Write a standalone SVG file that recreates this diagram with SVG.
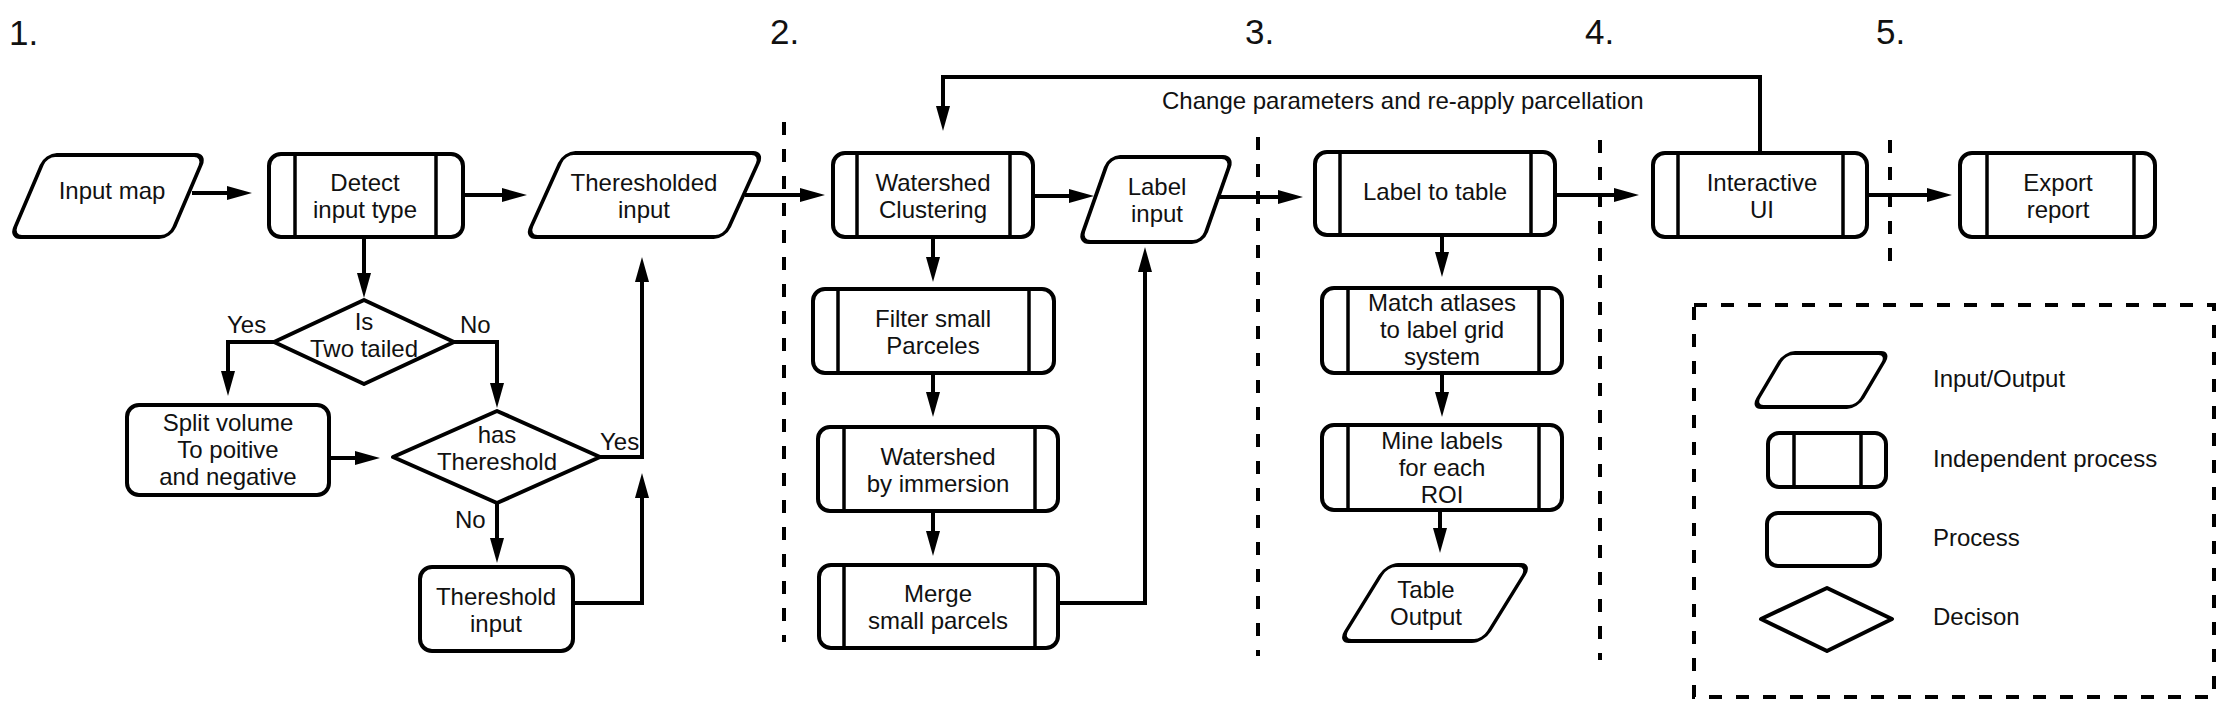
<svg xmlns="http://www.w3.org/2000/svg" width="2232" height="714" viewBox="0 0 2232 714">
<defs>
<style>
.shape{fill:#fff;stroke:#000;stroke-width:4;stroke-linejoin:round}
.inner{stroke:#000;stroke-width:3.5;fill:none}
.conn{fill:none;stroke:#000;stroke-width:4}
.sep{fill:none;stroke:#000;stroke-width:4;stroke-dasharray:13 14}
text{font-family:"Liberation Sans",Arial,sans-serif;font-size:24px;fill:#111}
.c{text-anchor:middle}
.num{font-size:35px}
</style>
<marker id="arr" markerUnits="userSpaceOnUse" markerWidth="26" markerHeight="16" refX="13" refY="7" orient="auto">
<path d="M0,0 L25,7 L0,14 z" fill="#000"/>
</marker>
</defs>
<rect width="2232" height="714" fill="#fff"/>

<g id="stage-numbers">
<text class="num" x="9" y="45">1.</text>
<text class="num" x="770" y="44">2.</text>
<text class="num" x="1245" y="44">3.</text>
<text class="num" x="1585" y="44">4.</text>
<text class="num" x="1876" y="44">5.</text>
</g>

<g id="separators">
<line class="sep" x1="784" y1="122" x2="784" y2="642"/>
<line class="sep" x1="1258" y1="137" x2="1258" y2="656"/>
<line class="sep" x1="1600" y1="140" x2="1600" y2="660"/>
<line class="sep" x1="1890" y1="140" x2="1890" y2="275"/>
</g>

<g id="connectors">
<path class="conn" d="M192,193 L240,193" marker-end="url(#arr)"/>
<path class="conn" d="M463,195 L515,195" marker-end="url(#arr)"/>
<path class="conn" d="M364,237 L364,286" marker-end="url(#arr)"/>
<path class="conn" d="M274,342 L228,342 L228,384" marker-end="url(#arr)"/>
<path class="conn" d="M454,342 L497,342 L497,396" marker-end="url(#arr)"/>
<path class="conn" d="M329,458 L368,458" marker-end="url(#arr)"/>
<path class="conn" d="M600,457 L642,457 L642,269" marker-end="url(#arr)"/>
<path class="conn" d="M497,503 L497,551" marker-end="url(#arr)"/>
<path class="conn" d="M573,603 L642,603 L642,485" marker-end="url(#arr)"/>
<path class="conn" d="M745,195 L813,195" marker-end="url(#arr)"/>
<path class="conn" d="M933,237 L933,270" marker-end="url(#arr)"/>
<path class="conn" d="M933,373 L933,405" marker-end="url(#arr)"/>
<path class="conn" d="M933,511 L933,544" marker-end="url(#arr)"/>
<path class="conn" d="M1058,603 L1145,603 L1145,259" marker-end="url(#arr)"/>
<path class="conn" d="M1033,196 L1082,196" marker-end="url(#arr)"/>
<path class="conn" d="M1217,197 L1291,197" marker-end="url(#arr)"/>
<path class="conn" d="M1442,235 L1442,265" marker-end="url(#arr)"/>
<path class="conn" d="M1442,373 L1442,405" marker-end="url(#arr)"/>
<path class="conn" d="M1440,510 L1440,541" marker-end="url(#arr)"/>
<path class="conn" d="M1555,195 L1627,195" marker-end="url(#arr)"/>
<path class="conn" d="M1867,195 L1940,195" marker-end="url(#arr)"/>
<path class="conn" d="M1760,153 L1760,77 L943,77 L943,119" marker-end="url(#arr)"/>
<text x="1162" y="109">Change parameters and re-apply parcellation</text>
<text x="227" y="333">Yes</text>
<text x="460" y="333">No</text>
<text x="600" y="450">Yes</text>
<text x="455" y="528">No</text>
</g>

<g id="input-map">
<rect class="shape" x="-79.5" y="-41" width="159" height="82" rx="10" transform="translate(108,196) skewX(-23.1)"/>
<text class="c" x="112" y="199">Input map</text>
</g>

<g id="detect-input-type">
<rect class="shape" x="269" y="154" width="194" height="83" rx="12"/>
<line class="inner" x1="295" y1="154" x2="295" y2="237"/>
<line class="inner" x1="436" y1="154" x2="436" y2="237"/>
<text class="c" x="365" y="191">Detect<tspan x="365" dy="27">input type</tspan></text>
</g>

<g id="is-two-tailed">
<path class="shape" d="M364,300 L454,342 L364,384 L274,342 Z"/>
<text class="c" x="364" y="330">Is<tspan x="364" dy="27">Two tailed</tspan></text>
</g>

<g id="split-volume">
<rect class="shape" x="127" y="405" width="202" height="90" rx="12"/>
<text class="c" x="228" y="431">Split volume<tspan x="228" dy="27">To poitive</tspan><tspan x="228" dy="27">and negative</tspan></text>
</g>

<g id="has-threshold">
<path class="shape" d="M497,411 L600,457 L497,503 L393,457 Z"/>
<text class="c" x="497" y="443">has<tspan x="497" dy="27">Thereshold</tspan></text>
</g>

<g id="threshold-input">
<rect class="shape" x="420" y="567" width="153" height="84" rx="12"/>
<text class="c" x="496" y="605">Thereshold<tspan x="496" dy="27">input</tspan></text>
</g>

<g id="thresholded-input">
<rect class="shape" x="-99" y="-42" width="198" height="84" rx="10" transform="translate(644.5,195) skewX(-24.3)"/>
<text class="c" x="644" y="191">Theresholded<tspan x="644" dy="27">input</tspan></text>
</g>

<g id="watershed-clustering">
<rect class="shape" x="833" y="153" width="200" height="84" rx="12"/>
<line class="inner" x1="857" y1="153" x2="857" y2="237"/>
<line class="inner" x1="1010" y1="153" x2="1010" y2="237"/>
<text class="c" x="933" y="191">Watershed<tspan x="933" dy="27">Clustering</tspan></text>
</g>

<g id="filter-small-parceles">
<rect class="shape" x="813" y="289" width="241" height="84" rx="12"/>
<line class="inner" x1="838" y1="289" x2="838" y2="373"/>
<line class="inner" x1="1029" y1="289" x2="1029" y2="373"/>
<text class="c" x="933" y="327">Filter small<tspan x="933" dy="27">Parceles</tspan></text>
</g>

<g id="watershed-immersion">
<rect class="shape" x="818" y="427" width="240" height="84" rx="12"/>
<line class="inner" x1="844" y1="427" x2="844" y2="511"/>
<line class="inner" x1="1035" y1="427" x2="1035" y2="511"/>
<text class="c" x="938" y="465">Watershed<tspan x="938" dy="27">by immersion</tspan></text>
</g>

<g id="merge-small-parcels">
<rect class="shape" x="819" y="565" width="239" height="83" rx="12"/>
<line class="inner" x1="844" y1="565" x2="844" y2="648"/>
<line class="inner" x1="1035" y1="565" x2="1035" y2="648"/>
<text class="c" x="938" y="602">Merge<tspan x="938" dy="27">small parcels</tspan></text>
</g>

<g id="label-input">
<rect class="shape" x="-61.5" y="-42.5" width="123" height="85" rx="10" transform="translate(1156,199.5) skewX(-19.4)"/>
<text class="c" x="1157" y="195">Label<tspan x="1157" dy="27">input</tspan></text>
</g>

<g id="label-to-table">
<rect class="shape" x="1315" y="152" width="240" height="83" rx="12"/>
<line class="inner" x1="1340" y1="152" x2="1340" y2="235"/>
<line class="inner" x1="1531" y1="152" x2="1531" y2="235"/>
<text class="c" x="1435" y="200">Label to table</text>
</g>

<g id="match-atlases">
<rect class="shape" x="1322" y="288" width="240" height="85" rx="12"/>
<line class="inner" x1="1348" y1="288" x2="1348" y2="373"/>
<line class="inner" x1="1539" y1="288" x2="1539" y2="373"/>
<text class="c" x="1442" y="311">Match atlases<tspan x="1442" dy="27">to label grid</tspan><tspan x="1442" dy="27">system</tspan></text>
</g>

<g id="mine-labels">
<rect class="shape" x="1322" y="425" width="240" height="85" rx="12"/>
<line class="inner" x1="1348" y1="425" x2="1348" y2="510"/>
<line class="inner" x1="1539" y1="425" x2="1539" y2="510"/>
<text class="c" x="1442" y="449">Mine labels<tspan x="1442" dy="27">for each</tspan><tspan x="1442" dy="27">ROI</tspan></text>
</g>

<g id="table-output">
<rect class="shape" x="-71.5" y="-38" width="143" height="76" rx="10" transform="translate(1435,603) skewX(-31.7)"/>
<text class="c" x="1426" y="598">Table<tspan x="1426" dy="27">Output</tspan></text>
</g>

<g id="interactive-ui">
<rect class="shape" x="1653" y="153" width="214" height="84" rx="12"/>
<line class="inner" x1="1678" y1="153" x2="1678" y2="237"/>
<line class="inner" x1="1843" y1="153" x2="1843" y2="237"/>
<text class="c" x="1762" y="191">Interactive<tspan x="1762" dy="27">UI</tspan></text>
</g>

<g id="export-report">
<rect class="shape" x="1960" y="153" width="195" height="84" rx="12"/>
<line class="inner" x1="1987" y1="153" x2="1987" y2="237"/>
<line class="inner" x1="2134" y1="153" x2="2134" y2="237"/>
<text class="c" x="2058" y="191">Export<tspan x="2058" dy="27">report</tspan></text>
</g>

<g id="legend">
<rect class="sep" x="1694" y="305" width="520" height="392"/>
<rect class="shape" x="-52" y="-27" width="104" height="54" rx="9" transform="translate(1821,380) skewX(-30.6)"/>
<text x="1933" y="387">Input/Output</text>
<rect class="shape" x="1768" y="433" width="118" height="54" rx="11"/>
<line class="inner" x1="1794" y1="433" x2="1794" y2="487"/>
<line class="inner" x1="1861" y1="433" x2="1861" y2="487"/>
<text x="1933" y="467">Independent process</text>
<rect class="shape" x="1767" y="513" width="113" height="53" rx="11"/>
<text x="1933" y="546">Process</text>
<path class="shape" d="M1827,588 L1892,619 L1827,651 L1761,619 Z"/>
<text x="1933" y="625">Decison</text>
</g>
</svg>
